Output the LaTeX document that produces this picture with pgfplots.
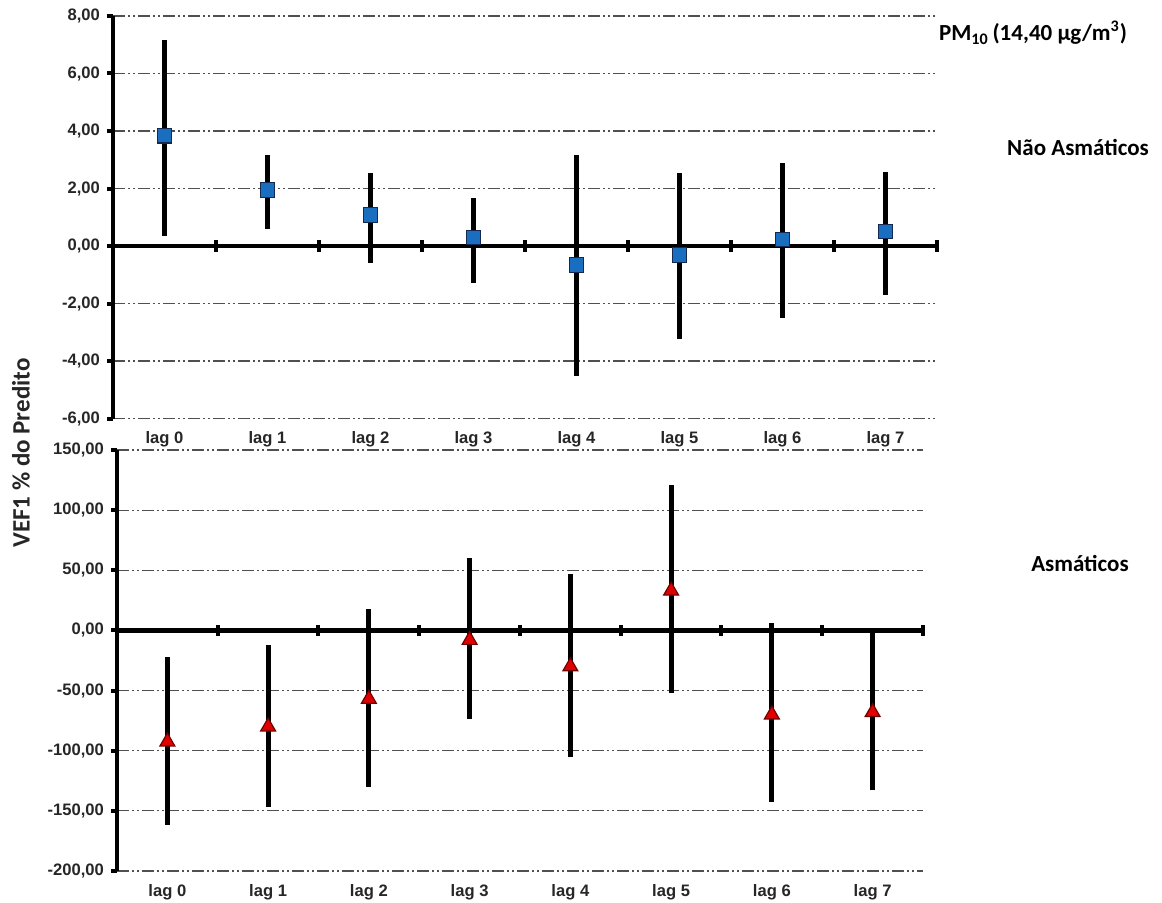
\documentclass[border=0pt]{standalone}
\usepackage{fontspec}
\setmainfont{Liberation Sans}
\newfontfamily\calfont{Carlito}
\usepackage{pgfplots}
\usepackage{pgfplotstable}
\pgfplotsset{compat=1.18}

\definecolor{sqfill}{RGB}{25,110,192}
\definecolor{sqdraw}{RGB}{20,40,80}
\definecolor{trfill}{RGB}{225,0,0}
\definecolor{trdraw}{RGB}{110,0,0}
\definecolor{gridc}{RGB}{80,80,80}

\pgfplotstableread{
x y lo hi
0 3.83 0.35 7.17
1 1.95 0.60 3.17
2 1.08 -0.59 2.54
3 0.29 -1.28 1.68
4 -0.66 -4.52 3.17
5 -0.31 -3.25 2.55
6 0.23 -2.50 2.90
7 0.50 -1.70 2.58
}\nonasm

\pgfplotstableread{
x y lo hi
0 -92.5 -162 -22
1 -80 -147 -12
2 -57 -130 18
3 -8 -74 60
4 -30 -105 47
5 33 -52 121
6 -70 -143 6
7 -68 -133 0
}\asm

\pgfplotsset{
  mystyle/.style={
    scale only axis,
    xmin=-0.5, xmax=7.5,
    axis x line*=bottom, axis y line*=left,
    x axis line style={draw=none},
    y axis line style={line width=2.2pt, black},
    xtick={0,...,7},
    xticklabels={lag 0,lag 1,lag 2,lag 3,lag 4,lag 5,lag 6,lag 7},
    xtick style={draw=none},
    ytick style={line width=2pt, black},
    major tick length=3pt,
    tick align=outside,
    ymajorgrids,
    grid style={gridc, line width=0.6pt, dash pattern=on 6pt off 1.5pt on 1pt off 1.5pt on 1pt off 1.5pt},
    tick label style={font=\fontsize{8.3}{9}\selectfont\bfseries, text=black!85},
    xticklabel style={yshift=0pt},
    extra y tick style={grid style={solid, black, line width=2.2pt}},
    /pgf/number format/fixed,
    /pgf/number format/fixed zerofill,
    /pgf/number format/precision=2,
    /pgf/number format/use comma,
    /pgf/number format/assume math mode=true,
    clip=false,
  },
  ebars/.style={
    error bars/y dir=both, error bars/y explicit,
    error bars/error mark=none,
    error bars/error bar style={line width=2.5pt, black},
  }
}

\begin{document}
\begin{tikzpicture}
\useasboundingbox (0,0) rectangle (581pt,-451.5pt);

\begin{axis}[mystyle,
  at={(56.5pt,-8pt)}, anchor=north west,
  width=412pt, height=201.25pt,
  ymin=-6, ymax=8,
  ytick={-6,-4,-2,2,4,6,8},
  extra y ticks={0},
]
\addplot[only marks, mark=|, mark size=2.8pt, mark options={line width=2pt, black}]
  coordinates {(0.5,0) (1.5,0) (2.5,0) (3.5,0) (4.5,0) (5.5,0) (6.5,0) (7.5,0)};
\addplot[ebars, only marks, mark=square*, mark size=3.6pt,
  mark options={fill=sqfill, draw=sqdraw, line width=0.6pt}]
  table[x=x, y=y, y error plus expr=\thisrow{hi}-\thisrow{y}, y error minus expr=\thisrow{y}-\thisrow{lo}] {\nonasm};
\end{axis}

\begin{axis}[mystyle,
  at={(58.5pt,-225pt)}, anchor=north west,
  width=403pt, height=210.5pt,
  ymin=-200, ymax=150,
  ytick={-200,-150,-100,-50,50,100,150},
  extra y ticks={0},
]
\addplot[only marks, mark=|, mark size=2.8pt, mark options={line width=2pt, black}]
  coordinates {(0.5,0) (1.5,0) (2.5,0) (3.5,0) (4.5,0) (5.5,0) (6.5,0) (7.5,0)};
\addplot[ebars, only marks, mark=triangle*, mark size=4.3pt,
  mark options={fill=trfill, draw=trdraw, line width=0.6pt}]
  table[x=x, y=y, y error plus expr=\thisrow{hi}-\thisrow{y}, y error minus expr=\thisrow{y}-\thisrow{lo}] {\asm};
\end{axis}

\node[rotate=90, font=\calfont\fontsize{12.5}{14}\selectfont\bfseries, text=black!85] at (10.5pt,-226.5pt) {VEF1 \% do Predito};
\node[font=\calfont\fontsize{11.5}{13}\selectfont\bfseries] at (516.5pt,-16.5pt) {PM\textsubscript{10}\,(14,40 µg/m\textsuperscript{3})};
\node[font=\calfont\fontsize{11.5}{13}\selectfont\bfseries] at (539pt,-74pt) {Não Asmáticos};
\node[font=\calfont\fontsize{11.5}{13}\selectfont\bfseries] at (540pt,-281.5pt) {Asmáticos};
\end{tikzpicture}
\end{document}
